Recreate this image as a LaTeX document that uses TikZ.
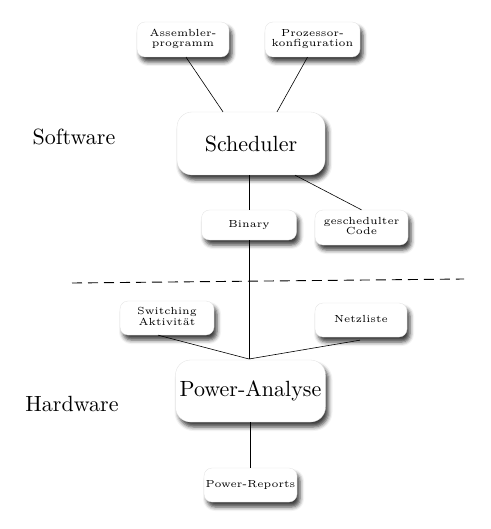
\documentclass[tikz,border=0pt]{standalone}
\usetikzlibrary{shadows.blur}
\newcommand{\smalltxt}[1]{\scalebox{2.05}{\fontsize{5}{5.1}\selectfont\begin{tabular}{@{}c@{}}#1\end{tabular}}}
\newcommand{\bigtxt}[1]{\scalebox{2.2}{\normalsize #1}}
\tikzset{
  boxbase/.style={fill=white, draw=black!12, line width=0.3pt, inner sep=0pt,
    blur shadow={shadow xshift=3pt, shadow yshift=-5pt, shadow blur radius=4pt, shadow opacity=75}},
  smallbox/.style={boxbase, rounded corners=8pt},
  bigbox/.style={boxbase, rounded corners=15pt},
  conn/.style={draw=black, line width=0.6pt},
  sep/.style={draw=black, line width=0.9pt, dash pattern=on 10pt off 6pt}
}
\begin{document}
\begin{tikzpicture}[x=1pt,y=-1pt]
\useasboundingbox (0,0) rectangle (490,529);
% software
\node[smallbox, minimum width=92pt, minimum height=35pt] (asm) at (183,39.5) {\smalltxt{Assembler-\\programm}};
\node[smallbox, minimum width=95pt, minimum height=35pt] (proz) at (312.5,39.5) {\smalltxt{Prozessor-\\konfiguration}};
\node[bigbox, minimum width=148pt, minimum height=63pt] (sch) at (251,143.5) {\bigtxt{Scheduler}};
\node[smallbox, minimum width=95pt, minimum height=30pt] (bin) at (249,225) {\smalltxt{Binary}};
\node[smallbox, minimum width=93pt, minimum height=35pt] (gc) at (361.5,227.5) {\smalltxt{geschedulter\\Code}};
\node (sw) at (74,137) {\bigtxt{Software}};
% separator
\coordinate (d1) at (72,283);
\coordinate (d2) at (464,279);
\draw[sep] (d1) -- (d2);
% hardware
\node[smallbox, minimum width=94pt, minimum height=34pt] (swa) at (167,318) {\smalltxt{Switching\\Aktivit\"at}};
\node[smallbox, minimum width=92pt, minimum height=34pt] (net) at (361,320) {\smalltxt{Netzliste}};
\node[bigbox, minimum width=150pt, minimum height=62pt] (pa) at (250.5,391) {\bigtxt{Power-Analyse}};
\node[smallbox, minimum width=93pt, minimum height=34pt] (pr) at (250.5,485) {\smalltxt{Power-Reports}};
\node (hw) at (72,404) {\bigtxt{Hardware}};
\coordinate (m) at (249,359);
% connectors
\draw[conn] ([xshift=3pt]asm.south) -- ([xshift=-28pt]sch.north);
\draw[conn] ([xshift=-5pt]proz.south) -- ([xshift=26pt]sch.north);
\draw[conn] (bin.north |- sch.south) -- (bin.north);
\draw[conn] ([xshift=44pt]sch.south) -- (gc.north);
\draw[conn] (bin.south) -- (m);
\draw[conn] ([xshift=-9pt]swa.south) -- (m);
\draw[conn] ([xshift=-1pt,yshift=-3pt]net.south) -- (m);
\draw[conn] (pa.south) -- (pr.north);
\end{tikzpicture}
\end{document}
